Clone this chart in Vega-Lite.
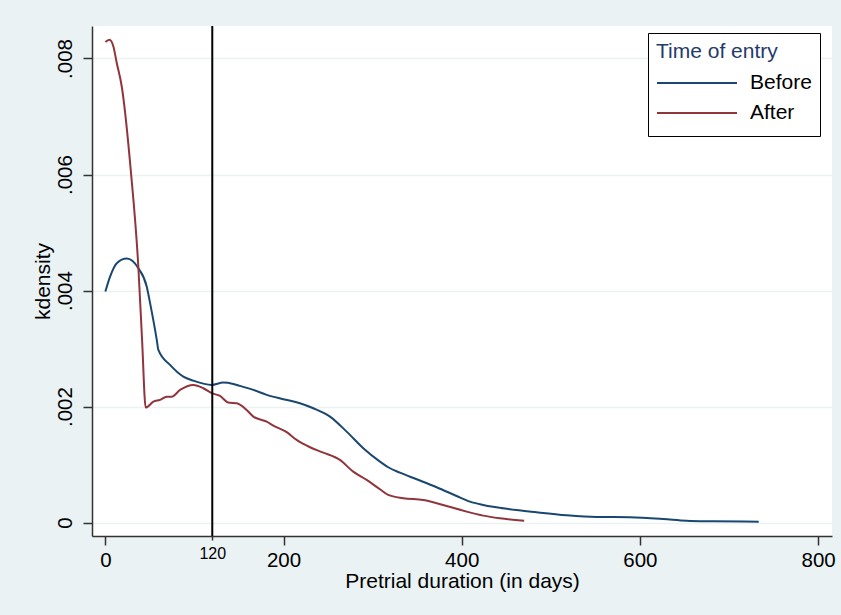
{
  "$schema": "https://vega.github.io/schema/vega-lite/v6.json",
  "autosize": "none",
  "width": 740,
  "height": 510,
  "padding": {"left": 92, "top": 26, "right": 9, "bottom": 79},
  "background": "#EAF2F3",
  "config": {
    "font": "Liberation Sans",
    "view": {"fill": "white", "stroke": null}
  },
  "layer": [
    {
      "data": {"values": [
        {"x": 0, "y": 0.003983, "g": "Before"},
        {"x": 5.3, "y": 0.004241, "g": "Before"},
        {"x": 12.8, "y": 0.004472, "g": "Before"},
        {"x": 24.0, "y": 0.004552, "g": "Before"},
        {"x": 37.0, "y": 0.004386, "g": "Before"},
        {"x": 46.4, "y": 0.004069, "g": "Before"},
        {"x": 50.2, "y": 0.003783, "g": "Before"},
        {"x": 57.7, "y": 0.00315, "g": "Before"},
        {"x": 59.5, "y": 0.002978, "g": "Before"},
        {"x": 72.6, "y": 0.002719, "g": "Before"},
        {"x": 87.5, "y": 0.002517, "g": "Before"},
        {"x": 98.7, "y": 0.002448, "g": "Before"},
        {"x": 119.4, "y": 0.002374, "g": "Before"},
        {"x": 132.4, "y": 0.002414, "g": "Before"},
        {"x": 143.6, "y": 0.002391, "g": "Before"},
        {"x": 151.1, "y": 0.002357, "g": "Before"},
        {"x": 166.1, "y": 0.002288, "g": "Before"},
        {"x": 181.1, "y": 0.002202, "g": "Before"},
        {"x": 199.7, "y": 0.002128, "g": "Before"},
        {"x": 218.4, "y": 0.002059, "g": "Before"},
        {"x": 233.4, "y": 0.001972, "g": "Before"},
        {"x": 252.1, "y": 0.001828, "g": "Before"},
        {"x": 270.8, "y": 0.001569, "g": "Before"},
        {"x": 289.5, "y": 0.001283, "g": "Before"},
        {"x": 308.2, "y": 0.001052, "g": "Before"},
        {"x": 317.5, "y": 0.000955, "g": "Before"},
        {"x": 330.6, "y": 0.000862, "g": "Before"},
        {"x": 349.4, "y": 0.000748, "g": "Before"},
        {"x": 371.8, "y": 0.00061, "g": "Before"},
        {"x": 394.2, "y": 0.00046, "g": "Before"},
        {"x": 409.2, "y": 0.000362, "g": "Before"},
        {"x": 424.1, "y": 0.000305, "g": "Before"},
        {"x": 454.1, "y": 0.000231, "g": "Before"},
        {"x": 484.0, "y": 0.000179, "g": "Before"},
        {"x": 517.7, "y": 0.000128, "g": "Before"},
        {"x": 551.3, "y": 0.000098, "g": "Before"},
        {"x": 588.7, "y": 0.000093, "g": "Before"},
        {"x": 626.0, "y": 0.000064, "g": "Before"},
        {"x": 652.3, "y": 0.000034, "g": "Before"},
        {"x": 682.1, "y": 0.000024, "g": "Before"},
        {"x": 733.4, "y": 0.000017, "g": "Before"},
        {"x": 0, "y": 0.008283, "g": "After"},
        {"x": 4.5, "y": 0.008322, "g": "After"},
        {"x": 9.0, "y": 0.008207, "g": "After"},
        {"x": 12.8, "y": 0.007921, "g": "After"},
        {"x": 18.4, "y": 0.007517, "g": "After"},
        {"x": 28.8, "y": 0.006024, "g": "After"},
        {"x": 37.0, "y": 0.004414, "g": "After"},
        {"x": 41.2, "y": 0.00315, "g": "After"},
        {"x": 45.3, "y": 0.001983, "g": "After"},
        {"x": 53.9, "y": 0.002086, "g": "After"},
        {"x": 61.4, "y": 0.002116, "g": "After"},
        {"x": 68.9, "y": 0.002172, "g": "After"},
        {"x": 74.5, "y": 0.002172, "g": "After"},
        {"x": 83.8, "y": 0.002288, "g": "After"},
        {"x": 98.7, "y": 0.002374, "g": "After"},
        {"x": 110.0, "y": 0.002317, "g": "After"},
        {"x": 119.4, "y": 0.002231, "g": "After"},
        {"x": 128.7, "y": 0.002184, "g": "After"},
        {"x": 138.0, "y": 0.002069, "g": "After"},
        {"x": 147.4, "y": 0.002059, "g": "After"},
        {"x": 158.6, "y": 0.001943, "g": "After"},
        {"x": 166.1, "y": 0.001828, "g": "After"},
        {"x": 181.1, "y": 0.001741, "g": "After"},
        {"x": 188.5, "y": 0.001672, "g": "After"},
        {"x": 203.5, "y": 0.001559, "g": "After"},
        {"x": 214.7, "y": 0.001426, "g": "After"},
        {"x": 229.7, "y": 0.0013, "g": "After"},
        {"x": 244.6, "y": 0.001207, "g": "After"},
        {"x": 263.3, "y": 0.001081, "g": "After"},
        {"x": 278.2, "y": 0.000879, "g": "After"},
        {"x": 293.3, "y": 0.000736, "g": "After"},
        {"x": 308.2, "y": 0.000576, "g": "After"},
        {"x": 317.5, "y": 0.000478, "g": "After"},
        {"x": 334.3, "y": 0.000421, "g": "After"},
        {"x": 356.8, "y": 0.000391, "g": "After"},
        {"x": 383.0, "y": 0.000288, "g": "After"},
        {"x": 405.5, "y": 0.00019, "g": "After"},
        {"x": 424.1, "y": 0.000121, "g": "After"},
        {"x": 442.8, "y": 0.000076, "g": "After"},
        {"x": 470.1, "y": 0.000034, "g": "After"}
      ]},
      "mark": {"type": "line", "strokeWidth": 2, "interpolate": "monotone"},
      "encoding": {
        "x": {
          "field": "x", "type": "quantitative",
          "scale": {"domain": [-15, 815.6], "nice": false, "zero": false},
          "axis": {
            "values": [0, 120, 200, 400, 600, 800],
            "grid": false,
            "domainColor": "#333333",
            "domainWidth": 1.5,
            "tickColor": "#333333",
            "tickWidth": 1.5,
            "tickSize": {"condition": {"test": "datum.value == 120", "value": 4}, "value": 9},
            "labelFont": "Liberation Sans",
            "labelFontSize": {"condition": {"test": "datum.value == 120", "value": 16}, "value": 20.5},
            "labelPadding": 5,
            "labelColor": "black",
            "title": "Pretrial duration (in days)",
            "titleFont": "Liberation Sans",
            "titleFontSize": 21,
            "titleFontWeight": "normal",
            "titleColor": "black",
            "titlePadding": 0
          }
        },
        "y": {
          "field": "y", "type": "quantitative",
          "scale": {"domain": [-0.00023, 0.00856], "nice": false, "zero": false},
          "axis": {
            "values": [0, 0.002, 0.004, 0.006, 0.008],
            "labelExpr": "datum.value == 0 ? '0' : replace(format(datum.value, '.3f'), '0.', '.')",
            "labelAngle": -90,
            "labelFont": "Liberation Sans",
            "labelFontSize": 20.5,
            "labelColor": "black",
            "labelPadding": 8,
            "grid": true,
            "gridColor": "#EAF2F3",
            "gridWidth": 1.5,
            "domainColor": "#333333",
            "domainWidth": 1.5,
            "tickColor": "#333333",
            "tickWidth": 1.5,
            "tickSize": 9,
            "title": "kdensity",
            "titleFont": "Liberation Sans",
            "titleFontSize": 21,
            "titleFontWeight": "normal",
            "titleColor": "black",
            "titlePadding": 2
          }
        },
        "color": {
          "field": "g", "type": "nominal",
          "scale": {"domain": ["Before", "After"], "range": ["#1a476f", "#90353b"]},
          "legend": {
            "orient": "none",
            "legendX": 556,
            "legendY": 7,
            "title": "Time of entry",
            "titleFont": "Liberation Sans",
            "titleColor": "#243a6b",
            "titleFontSize": 21,
            "titleFontWeight": "normal",
            "titlePadding": 6,
            "labelFont": "Liberation Sans",
            "labelFontSize": 21,
            "labelColor": "black",
            "labelOffset": 12,
            "symbolType": "stroke",
            "symbolSize": 6400,
            "symbolStrokeWidth": 2,
            "clipHeight": 30,
            "strokeColor": "black",
            "fillColor": "white",
            "padding": 8,
            "rowPadding": 0
          }
        }
      }
    },
    {
      "data": {"values": [{"x": 120}]},
      "mark": {"type": "rule", "color": "black", "strokeWidth": 2},
      "encoding": {"x": {"field": "x", "type": "quantitative"}}
    }
  ]
}
